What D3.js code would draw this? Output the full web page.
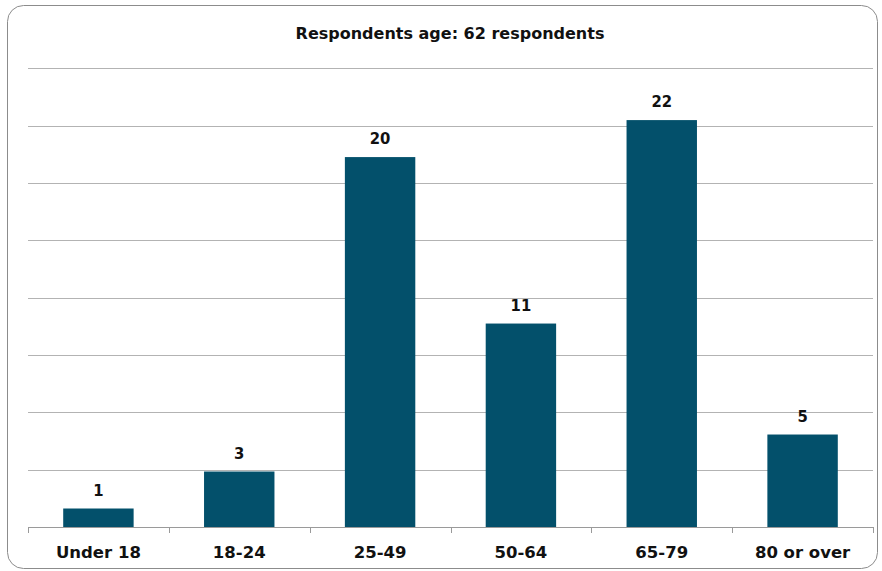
<!DOCTYPE html>
<html>
<head>
<meta charset="utf-8">
<script src="https://cdn.jsdelivr.net/npm/d3@7"></script>
<style>
  html, body { margin: 0; padding: 0; background: #ffffff; }
  svg { display: block; }
  text { fill: #111; }
  .cat, .title { font-family: "DejaVu Sans", sans-serif; font-weight: bold; }
  .val { font-family: "DejaVu Sans Condensed", "DejaVu Sans", sans-serif; font-weight: bold; }
</style>
</head>
<body>
<svg id="chart" width="882" height="571"></svg>
<script>
// Age groups and number of respondents in each
const categories = ["Under 18", "18-24", "25-49", "50-64", "65-79", "80 or over"];
const counts = [1, 3, 20, 11, 22, 5];
const totalRespondents = 62;
// Gridlines sit at 5% steps of all respondents
const gridShares = [0, 0.05, 0.10, 0.15, 0.20, 0.25, 0.30, 0.35, 0.40];
const titleText = "Respondents age: " + totalRespondents + " respondents";

const svg = d3.select("#chart");
const plot = { left: 28, right: 873, top: 68.3, bottom: 527 };

// Outer rounded frame
svg.append("rect")
  .attr("x", 7.5).attr("y", 5.5)
  .attr("width", 870).attr("height", 563)
  .attr("rx", 16).attr("ry", 16)
  .attr("fill", "#fff")
  .attr("stroke", "#8c8c8c")
  .attr("stroke-width", 1);

const x = d3.scaleBand()
  .domain(categories)
  .range([plot.left, plot.right])
  .paddingInner(0.5)
  .paddingOuter(0.25);

const y = d3.scaleLinear()
  .domain([0, d3.max(gridShares)])
  .range([plot.bottom, plot.top]);

// Horizontal gridlines
svg.append("g")
  .selectAll("line")
  .data(gridShares.filter(d => d > 0))
  .join("line")
  .attr("x1", plot.left).attr("x2", plot.right)
  .attr("y1", d => Math.round(y(d)) + 0.5)
  .attr("y2", d => Math.round(y(d)) + 0.5)
  .attr("stroke", "#b3b3b3")
  .attr("stroke-width", 1);

// Bars
svg.append("g")
  .selectAll("rect")
  .data(counts)
  .join("rect")
  .attr("x", (d, i) => x(categories[i]))
  .attr("width", x.bandwidth())
  .attr("y", d => y(d / totalRespondents))
  .attr("height", d => plot.bottom - y(d / totalRespondents))
  .attr("fill", "#03506b");

// Category axis with tick marks at group boundaries
const step = x.step();
const boundaries = d3.range(categories.length + 1).map(i => plot.left + i * step);
const axisG = svg.append("g");
axisG.append("line")
  .attr("x1", plot.left).attr("x2", plot.right)
  .attr("y1", Math.round(plot.bottom) + 0.5).attr("y2", Math.round(plot.bottom) + 0.5)
  .attr("stroke", "#9a9a9a");
axisG.selectAll("line.tick")
  .data(boundaries)
  .join("line")
  .attr("class", "tick")
  .attr("x1", d => Math.round(d) + 0.5).attr("x2", d => Math.round(d) + 0.5)
  .attr("y1", Math.round(plot.bottom)).attr("y2", Math.round(plot.bottom) + 6)
  .attr("stroke", "#9a9a9a");
axisG.selectAll("text")
  .data(categories)
  .join("text")
  .attr("class", "cat")
  .attr("x", d => x(d) + x.bandwidth() / 2)
  .attr("y", 558)
  .attr("text-anchor", "middle")
  .attr("font-size", 16.5)
  .text(d => d);

// Value labels
svg.append("g")
  .selectAll("text")
  .data(counts)
  .join("text")
  .attr("class", "val")
  .attr("x", (d, i) => x(categories[i]) + x.bandwidth() / 2)
  .attr("y", d => y(d / totalRespondents) - 13)
  .attr("text-anchor", "middle")
  .attr("font-size", 16.5)
  .text(d => d);

// Title
svg.append("text")
  .attr("class", "title")
  .attr("x", 450)
  .attr("y", 39)
  .attr("text-anchor", "middle")
  .attr("font-size", 16)
  .text(titleText);
</script>
</body>
</html>
